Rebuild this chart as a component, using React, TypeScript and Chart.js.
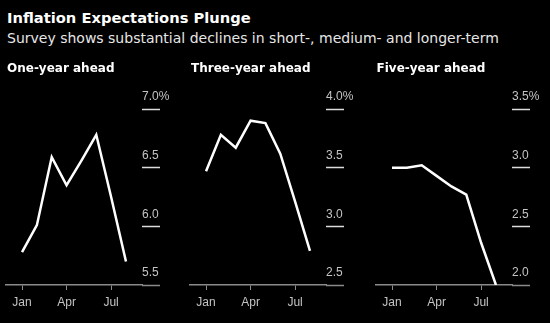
import React, { useEffect, useRef } from "react";
import { Chart, registerables } from "chart.js";

Chart.register(...registerables);

const HEADLINE = "Inflation Expectations Plunge";
const SUBTITLE = "Survey shows substantial declines in short-, medium- and longer-term";

const MONTHS = ["Jan", "Feb", "Mar", "Apr", "May", "Jun", "Jul", "Aug"];
const TICK_MONTHS = ["Jan", "Apr", "Jul"];

const PANEL_TITLES = ["One-year ahead", "Three-year ahead", "Five-year ahead"];

const ONE_YEAR = [5.78, 6.01, 6.59, 6.35, 6.56, 6.78, 6.25, 5.7];
const THREE_YEAR = [3.47, 3.78, 3.67, 3.9, 3.88, 3.62, 3.21, 2.79];
const FIVE_YEAR = [3.0, 3.0, 3.02, 2.93, 2.84, 2.77, 2.36, 2.0];

const Y_MINS = [5.5, 2.5, 2.0];
const Y_MAXS = [7.0, 4.0, 3.5];
const Y_STEP = 0.5;

const SERIES = [ONE_YEAR, THREE_YEAR, FIVE_YEAR];
const PANEL_LEFTS = [0, 184, 369.5];

const AXIS_GRAY = "#8a8a8a";
const GRID_WHITE = "#dcdcdc";
const LABEL_GRAY = "#c4c4c4";
const TICK_FONT = { family: '"Liberation Sans", Arial, sans-serif', size: 12 };

function Panel({ values, yMin, yMax }: { values: number[]; yMin: number; yMax: number }) {
  const ref = useRef<HTMLCanvasElement | null>(null);
  useEffect(() => {
    if (!ref.current) return;
    const chart = new Chart(ref.current, {
      type: "line",
      data: {
        datasets: [
          {
            data: values.map((v, i) => ({ x: i, y: v })),
            borderColor: "#ffffff",
            borderWidth: 2.5,
            pointRadius: 0,
            tension: 0,
            borderJoinStyle: "miter",
            fill: false,
          },
        ],
      },
      options: {
        animation: false,
        responsive: false,
        devicePixelRatio: 1,
        layout: { padding: { left: 6, top: 109, right: 12, bottom: 0 } },
        plugins: {
          legend: { display: false },
          tooltip: { enabled: false },
          title: { display: false },
        },
        scales: {
          x: {
            type: "linear",
            min: -1.08,
            max: MONTHS.length - 1 + 1.08,
            afterBuildTicks: (s: any) => {
              s.ticks = TICK_MONTHS.map((m) => ({ value: MONTHS.indexOf(m) }));
            },
            afterFit: (s: any) => {
              s.height = 38;
            },
            ticks: {
              callback: (v: any) => MONTHS[Math.round(Number(v))],
              color: LABEL_GRAY,
              font: TICK_FONT,
              padding: 5,
              maxRotation: 0,
              autoSkip: false,
            },
            grid: {
              drawOnChartArea: false,
              drawTicks: true,
              tickLength: 5,
              color: AXIS_GRAY,
              lineWidth: 1,
            },
            border: { display: true, color: AXIS_GRAY, width: 1.5 },
          },
          y: {
            position: "right",
            min: yMin,
            max: yMax,
            afterFit: (s: any) => {
              s.width = 30;
            },
            ticks: {
              stepSize: Y_STEP,
              callback: (v: any) => {
                const n = Number(v);
                return Math.abs(n - yMax) < 1e-9 ? n.toFixed(1) + "%" : n.toFixed(1);
              },
              padding: -18,
              labelOffset: -12,
              crossAlign: "near",
              color: LABEL_GRAY,
              font: TICK_FONT,
            },
            grid: {
              drawOnChartArea: false,
              drawTicks: true,
              tickLength: 18,
              tickColor: (ctx: any) =>
                ctx.tick && Math.abs(ctx.tick.value - yMin) < 1e-9 ? AXIS_GRAY : GRID_WHITE,
              tickWidth: 1.5,
            },
            border: { display: false },
          },
        },
      } as any,
    });
    return () => chart.destroy();
  }, [values, yMin, yMax]);
  return <canvas ref={ref} width={184} height={323} style={{ display: "block" }} />;
}

export default function App() {
  return (
    <div
      style={{
        position: "fixed",
        left: 0,
        top: 0,
        width: 550,
        height: 323,
        background: "#000",
        overflow: "hidden",
      }}
    >
      <div
        style={{
          position: "absolute",
          left: 7,
          top: 11,
          fontFamily: '"DejaVu Sans", sans-serif',
          fontWeight: 700,
          fontSize: 14.7,
          lineHeight: "14.7px",
          color: "#ffffff",
          whiteSpace: "nowrap",
        }}
      >
        {HEADLINE}
      </div>
      <div
        style={{
          position: "absolute",
          left: 7,
          top: 30.5,
          fontFamily: '"DejaVu Sans", sans-serif',
          fontSize: 14,
          lineHeight: "14px",
          color: "#e6e6e6",
          whiteSpace: "nowrap",
        }}
      >
        {SUBTITLE}
      </div>
      {SERIES.map((values, i) => (
        <div key={i} style={{ position: "absolute", left: PANEL_LEFTS[i], top: 0, width: 184, height: 323 }}>
          <Panel values={values} yMin={Y_MINS[i]} yMax={Y_MAXS[i]} />
          <div
            style={{
              position: "absolute",
              left: 7,
              top: 62,
              fontFamily: '"DejaVu Sans", sans-serif',
              fontWeight: 700,
              fontSize: 12,
              lineHeight: "12px",
              color: "#ffffff",
              whiteSpace: "nowrap",
            }}
          >
            {PANEL_TITLES[i]}
          </div>
        </div>
      ))}
    </div>
  );
}
